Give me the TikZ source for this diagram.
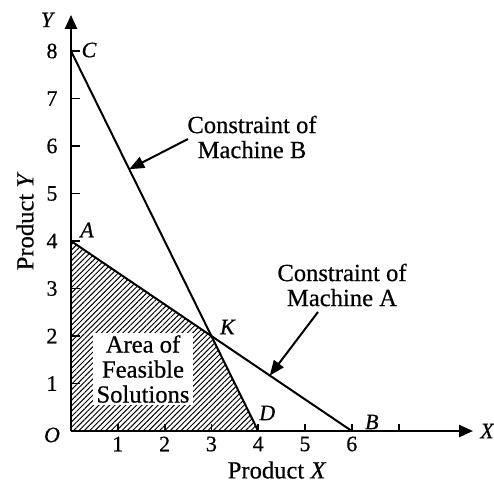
\documentclass[tikz,border=0pt]{standalone}
\usepackage{fontspec}
\setmainfont{Liberation Serif}[FakeBold=0.5]
\usetikzlibrary{arrows.meta,patterns.meta,calc}
\begin{document}
\begin{tikzpicture}[x=0.5pt,y=-0.5pt,
  axis/.style={line width=1.2pt,-{Triangle[length=7pt,width=6pt]}},
  cline/.style={line width=1pt},
  callout/.style={line width=1pt,-{Triangle[length=7.5pt,width=6pt]}},
  pt/.style={font=\fontsize{11}{12}\selectfont\itshape,inner sep=0pt},
  num/.style={font=\fontsize{11}{12}\selectfont,inner sep=0pt},
  txt/.style={font=\fontsize{12.3}{12.5}\selectfont,align=center,inner sep=0pt},
  tk/.style={line width=0.9pt}]
\useasboundingbox (0,0) rectangle (494,488);
\begin{scope}[shift={(71,431)},x=23.4pt,y=23.75pt]
  \coordinate (O) at (0,0);
  \coordinate (A) at (0,4);
  \coordinate (C) at (0,8);
  \coordinate (K) at (3,2);
  \coordinate (D) at (4,0);
  \coordinate (B) at (6,0);
  \coordinate (Xend) at (8.59,0);
  \coordinate (Yend) at (0,8.76);
  % hatched feasible region
  \fill[pattern={Lines[angle=45,distance=1.9pt,line width=0.5pt]}] (O) -- (A) -- (K) -- (D) -- cycle;
  % ticks
  \foreach \i in {1,...,8} \draw[tk] (0,\i) -- ++(4.5pt,0);
  \foreach \i in {1,...,7} \draw[tk] (\i,0) -- ++(0,3.5pt);
  \foreach \i in {1,...,8} \node[num] at ([xshift=-9.5pt]0,\i) {\i};
  \foreach \i in {1,...,6} \node[num] at ([yshift=-6.5pt]\i,0) {\i};
\end{scope}
% label box
\node[txt,fill=white,minimum width=50pt,minimum height=36pt] (area) at (143,369) {Area of\\Feasible\\Solutions};
% constraint lines
\draw[cline] (C) -- (D);
\draw[cline] (A) -- (B);
% axes
\draw[axis] (O) -- (Xend);
\draw[axis] (O) -- (Yend);
% point labels
\node[pt] (lC) at ([xshift=9pt,yshift=0.5pt]C) {C};
\node[pt] (lA) at ([xshift=8pt,yshift=5.5pt]A) {A};
\node[pt] (lK) at ([xshift=8pt,yshift=4.5pt]K) {K};
\node[pt] (lD) at ([xshift=4.5pt,yshift=9pt]D) {D};
\node[pt] (lB) at ([xshift=10pt,yshift=4.5pt]B) {B};
\node[pt] (lO) at ([xshift=-9.5pt,yshift=-2pt]O) {O};
\node[pt] (lX) at ([xshift=7pt]Xend) {X};
\node[pt] (lY) at ([xshift=-12pt,yshift=-2.5pt]Yend) {Y};
% axis titles
\node[txt] (px) at (277,470) {Product \textit{X}};
\node[txt,rotate=90] (py) at (25,221) {Product \textit{Y}};
% callouts
\node[txt] (cb) at (252,137) {Constraint of\\Machine B};
\node[txt] (ca) at (342,285) {Constraint of\\Machine A};
\coordinate (tb) at (188,139);
\coordinate (ta) at (318,312);
\draw[callout] (tb) -- ($(C)!0.311!(D)$);
\draw[callout] (ta) -- ($(A)!0.708!(B)$);
\end{tikzpicture}
\end{document}
